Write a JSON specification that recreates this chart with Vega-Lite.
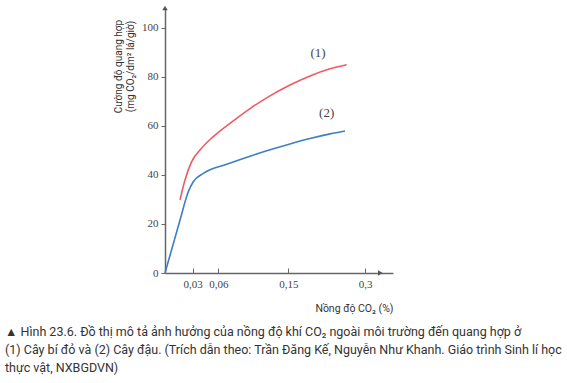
{
  "$schema": "https://vega.github.io/schema/vega-lite/v6.json",
  "autosize": {"type": "none"},
  "width": 228,
  "height": 265,
  "padding": {"left": 165, "top": 8, "right": 174, "bottom": 110},
  "background": "#ffffff",
  "config": {"view": {"stroke": null}},
  "title": {
    "text": [
      "▲ Hình 23.6. Đồ thị mô tả ảnh hưởng của nồng độ khí CO₂ ngoài môi trường đến quang hợp ở",
      "(1) Cây bí đỏ và (2) Cây đậu. (Trích dẫn theo: Trần Đăng Kế, Nguyễn Như Khanh. Giáo trình Sinh lí học",
      "thực vật, NXBGDVN)"
    ],
    "orient": "bottom",
    "anchor": "start",
    "frame": "group",
    "dx": -160,
    "offset": 12,
    "font": "Roboto",
    "fontSize": 12.5,
    "fontWeight": "normal",
    "color": "#333333",
    "lineHeight": 18
  },
  "datasets": {
    "curves": [
      {"c": 0.0164, "v": 29.8, "s": "1"},
      {"c": 0.0218, "v": 37.9, "s": "1"},
      {"c": 0.0291, "v": 45.4, "s": "1"},
      {"c": 0.0387, "v": 50.1, "s": "1"},
      {"c": 0.0542, "v": 55.6, "s": "1"},
      {"c": 0.0793, "v": 62.0, "s": "1"},
      {"c": 0.1008, "v": 67.0, "s": "1"},
      {"c": 0.1265, "v": 72.2, "s": "1"},
      {"c": 0.1533, "v": 76.6, "s": "1"},
      {"c": 0.1924, "v": 80.3, "s": "1"},
      {"c": 0.2316, "v": 83.2, "s": "1"},
      {"c": 0.2642, "v": 84.9, "s": "1"},
      {"c": 0.0, "v": 0.0, "s": "2"},
      {"c": 0.0164, "v": 21.6, "s": "2"},
      {"c": 0.0254, "v": 33.1, "s": "2"},
      {"c": 0.0309, "v": 37.2, "s": "2"},
      {"c": 0.0426, "v": 40.6, "s": "2"},
      {"c": 0.0708, "v": 44.3, "s": "2"},
      {"c": 0.1008, "v": 47.6, "s": "2"},
      {"c": 0.1265, "v": 50.2, "s": "2"},
      {"c": 0.1533, "v": 52.6, "s": "2"},
      {"c": 0.1924, "v": 54.8, "s": "2"},
      {"c": 0.2316, "v": 56.7, "s": "2"},
      {"c": 0.2609, "v": 57.9, "s": "2"}
    ],
    "labels": [
      {"c": 0.208, "v": 89.8, "t": "(1)"},
      {"c": 0.225, "v": 65.3, "t": "(2)"}
    ],
    "arrows": [
      {"c": 0, "v": 108, "shape": "triangle-up"},
      {"c": 0.3548, "v": 0, "shape": "triangle-right"}
    ]
  },
  "layer": [
    {
      "data": {"name": "curves"},
      "mark": {"type": "line", "interpolate": "monotone", "strokeWidth": 1.6},
      "encoding": {
        "x": {
          "field": "c", "type": "quantitative",
          "scale": {"domain": [0, 0.03, 0.06, 0.15, 0.3, 0.3548], "range": [0, 27.5, 53.3, 123.3, 200, 228]},
          "axis": {
            "values": [0.03, 0.06, 0.15, 0.3],
            "format": ".2~f",
            "labelExpr": "replace(datum.label, '.', ',')",
            "grid": false,
            "domainColor": "#666666",
            "domainWidth": 1.5,
            "tickColor": "#666666",
            "tickSize": -5,
            "labelPadding": 10,
            "labelFont": "Liberation Serif",
            "labelFontSize": 11,
            "labelColor": "#444444",
            "title": "Nồng độ CO₂ (%)",
            "titleFont": "Roboto",
            "titleFontSize": 10.5,
            "titleFontWeight": "normal",
            "titleColor": "#333333",
            "titleAnchor": "end",
            "titleAlign": "right",
            "titlePadding": 14
          }
        },
        "y": {
          "field": "v", "type": "quantitative",
          "scale": {"domain": [0, 108], "nice": false},
          "axis": {
            "values": [0, 20, 40, 60, 80, 100],
            "grid": false,
            "domainColor": "#666666",
            "domainWidth": 1.5,
            "tickColor": "#666666",
            "tickSize": 4,
            "labelPadding": 3,
            "labelFont": "Liberation Serif",
            "labelFontSize": 11,
            "labelColor": "#444444",
            "title": ["Cường độ quang hợp", "(mg CO₂/dm² lá/giờ)"],
            "titleFont": "Roboto",
            "titleFontSize": 10,
            "titleFontWeight": "normal",
            "titleColor": "#333333",
            "titleX": -42,
            "titleY": 58,
            "titleAlign": "center",
            "titleLineHeight": 12
          }
        },
        "color": {
          "field": "s", "type": "nominal",
          "scale": {"domain": ["1", "2"], "range": ["#ef5a62", "#3d7fc2"]},
          "legend": null
        }
      }
    },
    {
      "data": {"name": "labels"},
      "mark": {"type": "text", "font": "Liberation Serif", "fontSize": 13, "color": "#444444"},
      "encoding": {
        "x": {"field": "c", "type": "quantitative"},
        "y": {"field": "v", "type": "quantitative"},
        "text": {"field": "t"}
      }
    },
    {
      "data": {"name": "arrows"},
      "mark": {"type": "point", "filled": true, "size": 30, "color": "#555555", "opacity": 1},
      "encoding": {
        "x": {"field": "c", "type": "quantitative"},
        "y": {"field": "v", "type": "quantitative"},
        "shape": {"field": "shape", "type": "nominal", "scale": null}
      }
    }
  ]
}
